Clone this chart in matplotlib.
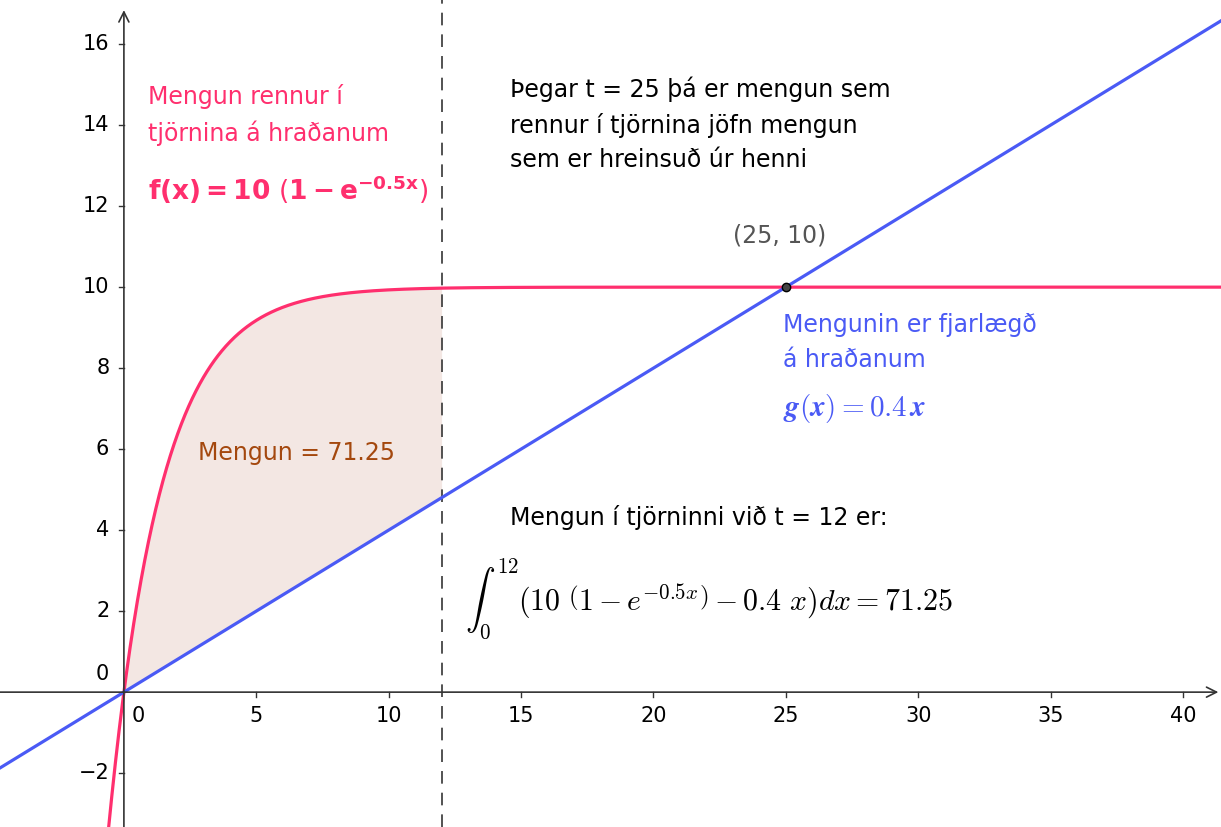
import numpy as np
import matplotlib.pyplot as plt

# model values
inflow_max = 10.0
inflow_rate = 0.5
outflow_slope = 0.4
t_end = 12
meet = (25, 10)
area = 71.25

xticks = [5, 10, 15, 20, 25, 30, 35, 40]
yticks = [-2, 2, 4, 6, 8, 10, 12, 14, 16]
xlim = (-4.68, 41.44)
ylim = (-3.33, 17.09)

pink = '#ff2f6e'
blue = '#4a5af5'
brown = '#a4480e'

def f(x):
    return inflow_max * (1 - np.exp(-inflow_rate * x))

def g(x):
    return outflow_slope * x

fig = plt.figure(figsize=(12.21, 8.27), dpi=100)
ax = fig.add_axes([0, 0, 1, 1])
ax.set_xlim(*xlim)
ax.set_ylim(*ylim)

x = np.linspace(xlim[0], xlim[1], 2000)
xs = np.linspace(0, t_end, 400)
ax.fill_between(xs, f(xs), g(xs), color=(0.65, 0.3, 0.18, 0.13), lw=0)
ax.plot(x, f(x), color=pink, lw=2.3, zorder=3)
ax.plot(x, g(x), color=blue, lw=2.3, zorder=3)
ax.axvline(t_end, color='#444444', lw=1.3, dashes=(7, 5), zorder=2)
ax.plot(*meet, 'o', ms=6, mfc='#444444', mec='black', mew=1, zorder=5)

# axes through origin
for s in ax.spines.values():
    s.set_visible(False)
ax.annotate('', xy=(xlim[1] - 0.1, 0), xytext=(xlim[0], 0),
            arrowprops=dict(arrowstyle='->', color='#333333', lw=1.2,
                            mutation_scale=18, shrinkA=0, shrinkB=0))
ax.annotate('', xy=(0, ylim[1] - 0.25), xytext=(0, ylim[0]),
            arrowprops=dict(arrowstyle='->', color='#333333', lw=1.2,
                            mutation_scale=18, shrinkA=0, shrinkB=0))

ax.set_xticks([])
ax.set_yticks([])
for v in xticks:
    ax.plot([v, v], [0, -0.12], color='#333333', lw=1)
    ax.text(v, -0.35, str(v), ha='center', va='top', fontsize=15)
for v in yticks:
    ax.plot([0, -0.2], [v, v], color='#333333', lw=1)
    ax.text(-0.55, v, str(v).replace('-', '\u2212'), ha='right', va='center', fontsize=15)
ax.text(0.3, -0.35, '0', ha='left', va='top', fontsize=15)
ax.text(-0.55, 0.2, '0', ha='right', va='bottom', fontsize=15)

# annotations
ax.text(0.9, 14.25, 'Mengun rennur í\ntjörnina á hraðanum', color=pink,
        fontsize=17, va='center', ha='left', linespacing=1.55)
ax.text(0.9, 12.4, r'$\mathbf{f(x) = 10\ \left(1 - e^{-0.5x}\right)}$',
        color=pink, fontsize=19, va='center', ha='left')

ax.text(14.6, 14.02, 'Þegar t = 25 þá er mengun sem\nrennur í tjörnina jöfn mengun\nsem er hreinsuð úr henni',
        color='black', fontsize=17, va='center', ha='left', linespacing=1.55)

ax.text(24.75, 11.28, '(%d, %d)' % meet, color='#555555', fontsize=17,
        ha='center', va='center')
ax.text(24.9, 8.63, 'Mengunin er fjarlægð\ná hraðanum', color=blue,
        fontsize=17, va='center', ha='left', linespacing=1.55)
ax.text(24.9, 7.0, r'$\boldsymbol{g(x) = %.1f\,x}$' % outflow_slope, color=blue,
        fontsize=21, va='center', ha='left', math_fontfamily='cm')

ax.text(2.8, 5.9, 'Mengun = %.2f' % area, color=brown, fontsize=17,
        va='center', ha='left')

ax.text(14.58, 4.32, 'Mengun í tjörninni við t = %d er:' % t_end, color='black',
        fontsize=17, va='center', ha='left')
ax.text(12.9, 2.3,
        r'$\int_0^{12} (10\ \left(1 - e^{-0.5x}\right) - 0.4\ x)dx = %.2f$' % area,
        color='black', fontsize=21.5, va='center', ha='left', math_fontfamily='cm')

fig.savefig('out.png', dpi=100)
